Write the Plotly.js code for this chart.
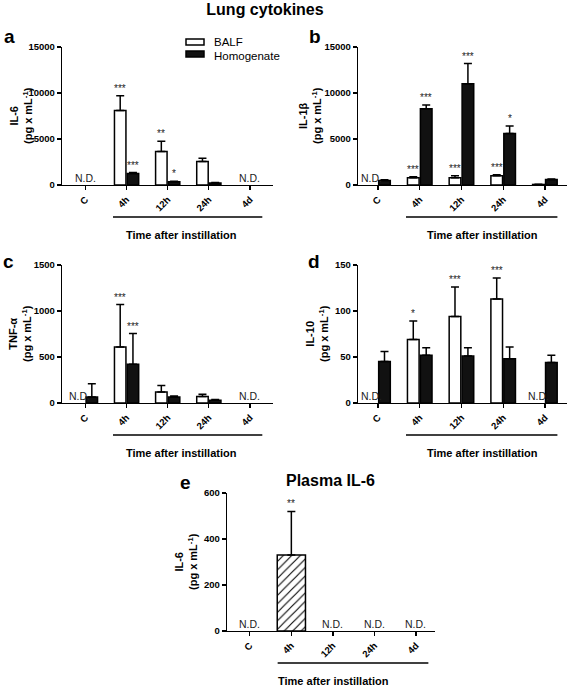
<!DOCTYPE html>
<html>
<head>
<meta charset="utf-8">
<script src="https://cdn.plot.ly/plotly-3.0.1.min.js"></script>
<style>html,body{margin:0;padding:0;background:#fff;}#chart{width:567px;height:687px;}</style>
</head>
<body>
<div id="chart"></div>
<script>
// ---------- DATA ----------
const categories = ['C', '4h', '12h', '24h', '4d'];
const seriesNames = ['BALF', 'Homogenate'];

// a: lung IL-6 (pg/mL)
const il6Balf      = [null, 8100, 3650, 2550, null];
const il6BalfErr   = [null, 1600, 1100, 350, null];
const il6Hom       = [null, 1250, 350, 220, null];
const il6HomErr    = [null, 100, 60, 40, null];
const il6BalfSig   = ['', '***', '**', '', ''];
const il6HomSig    = ['', '***', '*', '', ''];

// b: lung IL-1beta
const il1bBalf     = [null, 800, 800, 1000, 60];
const il1bBalfErr  = [null, 100, 200, 120, 20];
const il1bHom      = [500, 8300, 11000, 5600, 600];
const il1bHomErr   = [80, 400, 2200, 800, 60];
const il1bBalfSig  = ['', '***', '***', '***', ''];
const il1bHomSig   = ['', '***', '***', '*', ''];

// c: lung TNF-alpha
const tnfBalf      = [null, 610, 120, 70, null];
const tnfBalfErr   = [null, 460, 70, 25, null];
const tnfHom       = [65, 420, 65, 30, null];
const tnfHomErr    = [145, 335, 10, 8, null];
const tnfBalfSig   = ['', '***', '', '', ''];
const tnfHomSig    = ['', '***', '', '', ''];

// d: lung IL-10
const il10Balf     = [null, 69, 94, 113, null];
const il10BalfErr  = [null, 20, 32, 23, null];
const il10Hom      = [45, 52, 51, 48, 44];
const il10HomErr   = [11, 8, 9, 13, 8];
const il10BalfSig  = ['', '*', '***', '***', ''];
const il10HomSig   = ['', '', '', '', ''];

// e: plasma IL-6
const plasmaIl6    = [null, 330, null, null, null];
const plasmaIl6Err = [null, 190, null, null, null];
const plasmaIl6Sig = ['', '**', '', '', ''];

// ---------- TEXT ----------
const mainTitle = 'Lung cytokines';
const plasmaTitle = 'Plasma IL-6';
const xTitle = 'Time after instillation';
const ndText = 'N.D.';
const unitText = '(pg x mL<sup>-1</sup>)';

// ---------- LAYOUT HELPERS ----------
const W = 567, H = 687;
const px = x => x / W;
const py = y => 1 - y / H;
const FONT = 'Liberation Sans, Arial, Helvetica, sans-serif';
const BARGAP = 0.38, GROUPGAP = 0.1;
const SLOT_OFF = (1 - BARGAP) / 4;

const panels = [
  {letter:'a', yLabel:'IL-6', balf:il6Balf, balfErr:il6BalfErr, hom:il6Hom, homErr:il6HomErr, balfSig:il6BalfSig, homSig:il6HomSig,
   left:62, right:273, zero:185, top:47, xr:[-0.57,4.56], yr:[0,15000], dtick:5000,
   letterPos:[9,36], yTitleX:21, timeX:181},
  {letter:'b', yLabel:'IL-1β', balf:il1bBalf, balfErr:il1bBalfErr, hom:il1bHom, homErr:il1bHomErr, balfSig:il1bBalfSig, homSig:il1bHomSig,
   left:358, right:567, zero:185, top:47, xr:[-0.48,4.53], yr:[0,15000], dtick:5000,
   letterPos:[315,36], yTitleX:310, timeX:482},
  {letter:'c', yLabel:'TNF-α', balf:tnfBalf, balfErr:tnfBalfErr, hom:tnfHom, homErr:tnfHomErr, balfSig:tnfBalfSig, homSig:tnfHomSig,
   left:62, right:273, zero:403, top:265, xr:[-0.57,4.56], yr:[0,1500], dtick:500,
   letterPos:[8,262], yTitleX:20, timeX:181},
  {letter:'d', yLabel:'IL-10', balf:il10Balf, balfErr:il10BalfErr, hom:il10Hom, homErr:il10HomErr, balfSig:il10BalfSig, homSig:il10HomSig,
   left:358, right:567, zero:403, top:265, xr:[-0.48,4.53], yr:[0,150], dtick:50,
   letterPos:[314,262], yTitleX:317, timeX:482},
  {letter:'e', yLabel:'IL-6', single:plasmaIl6, singleErr:plasmaIl6Err, singleSig:plasmaIl6Sig,
   left:227, right:435, zero:631, top:493, xr:[-0.55,4.46], yr:[0,600], dtick:200,
   letterPos:[185,482], yTitleX:186, timeX:333}
];

const traces = [];
const annotations = [];
const shapes = [];
const layout = {
  width: W, height: H,
  margin: {l:0, r:0, t:0, b:0},
  paper_bgcolor: '#fff', plot_bgcolor: 'rgba(0,0,0,0)',
  barmode: 'group', bargap: BARGAP, bargroupgap: GROUPGAP,
  showlegend: false,
  font: {family: FONT, color: '#000'},
  title: {text: mainTitle, x: px(265), xref: 'paper', xanchor: 'center', y: py(9.5), yref: 'paper', yanchor: 'middle',
          font: {family: FONT, size: 16, weight: 'bold', color: '#000'}},
  annotations: annotations, shapes: shapes
};

const zerosLike = arr => arr.map(() => 0);
const tickFont = {family: FONT, size: 9.5, weight: 'bold', color: '#000'};

panels.forEach((p, i) => {
  const n = i + 1;
  const xa = n === 1 ? 'x' : 'x' + n;
  const ya = n === 1 ? 'y' : 'y' + n;
  const xk = n === 1 ? 'xaxis' : 'xaxis' + n;
  const yk = n === 1 ? 'yaxis' : 'yaxis' + n;

  layout[xk] = {
    domain: [px(p.left), px(p.right)], anchor: ya, type: 'category', categoryarray: categories,
    range: p.xr, showline: true, linecolor: '#000', linewidth: 1.3, ticks: 'outside', ticklen: 4,
    tickwidth: 1.3, tickcolor: '#000', tickangle: -45, tickfont: tickFont, showgrid: false, zeroline: false,
    fixedrange: true
  };
  layout[yk] = {
    domain: [py(p.zero), py(p.top)], anchor: xa, range: p.yr, dtick: p.dtick, tick0: 0, tickformat: 'd',
    showline: true, linecolor: '#000', linewidth: 1.3, ticks: 'outside', ticklen: 4, tickwidth: 1.3,
    tickcolor: '#000', tickfont: tickFont, showgrid: false, zeroline: false, fixedrange: true
  };

  const errBar = (arr) => ({type: 'data', symmetric: false, array: arr, arrayminus: zerosLike(arr),
                            color: '#000', thickness: 1.5, width: 4});
  const starAnn = (xpos, yval, txt) => ({
    x: xpos, y: yval, xref: xa, yref: ya, text: txt, showarrow: false, xanchor: 'center', yanchor: 'bottom',
    yshift: 0, font: {family: FONT, size: 10, color: '#222'}
  });
  const ndAnn = (xpos) => ({
    x: xpos, y: 0, xref: xa, yref: ya, text: ndText, showarrow: false, xanchor: 'center', yanchor: 'bottom',
    yshift: -1, font: {family: FONT, size: 10.5, color: '#222'}
  });

  if (p.single) {
    traces.push({type: 'bar', name: 'Plasma', x: categories, y: p.single, xaxis: xa, yaxis: ya, width: 0.68,
      marker: {color: '#fff', line: {color: '#000', width: 1.5},
               pattern: {shape: '/', fgcolor: '#000', bgcolor: '#fff', size: 6, solidity: 0.18}},
      error_y: errBar(p.singleErr), hoverinfo: 'skip'});
    categories.forEach((c, k) => {
      if (p.single[k] === null) annotations.push(ndAnn(k));
      else if (p.singleSig[k]) annotations.push(starAnn(k, p.single[k] + p.singleErr[k], p.singleSig[k]));
    });
    annotations.push({x: px(330), y: py(480.5), xref: 'paper', yref: 'paper', text: plasmaTitle, showarrow: false,
      xanchor: 'center', yanchor: 'middle', font: {family: FONT, size: 16, weight: 'bold', color: '#000'}});
  } else {
    traces.push({type: 'bar', name: seriesNames[0], x: categories, y: p.balf, xaxis: xa, yaxis: ya,
      marker: {color: '#fff', line: {color: '#000', width: 1.5}}, error_y: errBar(p.balfErr), hoverinfo: 'skip'});
    traces.push({type: 'bar', name: seriesNames[1], x: categories, y: p.hom, xaxis: xa, yaxis: ya,
      marker: {color: '#111', line: {color: '#000', width: 1.5}}, error_y: errBar(p.homErr), hoverinfo: 'skip'});
    categories.forEach((c, k) => {
      const bNull = p.balf[k] === null, hNull = p.hom[k] === null;
      if (bNull && hNull) annotations.push(ndAnn(k));
      else if (bNull) annotations.push(ndAnn(k - SLOT_OFF));
      if (!bNull && p.balfSig[k]) annotations.push(starAnn(k - SLOT_OFF, p.balf[k] + p.balfErr[k], p.balfSig[k]));
      if (!hNull && p.homSig[k]) annotations.push(starAnn(k + SLOT_OFF, p.hom[k] + p.homErr[k], p.homSig[k]));
    });
  }

  // panel letter
  annotations.push({x: px(p.letterPos[0]), y: py(p.letterPos[1]), xref: 'paper', yref: 'paper', text: p.letter,
    showarrow: false, xanchor: 'center', yanchor: 'middle', font: {family: FONT, size: 19, weight: 'bold', color: '#000'}});
  // y title
  annotations.push({x: px(p.yTitleX), y: py((p.zero + p.top) / 2), xref: 'paper', yref: 'paper',
    text: p.yLabel + '<br>' + unitText, textangle: -90, showarrow: false, xanchor: 'center', yanchor: 'middle',
    font: {family: FONT, size: 11, weight: 'bold', color: '#000'}});
  // underline bracket
  shapes.push({type: 'line', xref: xa, yref: 'paper', x0: 0.67, x1: 4.3, y0: py(p.zero + 32), y1: py(p.zero + 32),
    line: {color: '#000', width: 1.6}});
  // x title
  annotations.push({x: px(p.timeX), y: py(p.zero + 50), xref: 'paper', yref: 'paper', text: xTitle, showarrow: false,
    xanchor: 'center', yanchor: 'middle', font: {family: FONT, size: 11, weight: 'bold', color: '#000'}});
});

// custom legend (panel a)
shapes.push({type: 'rect', xref: 'paper', yref: 'paper', x0: px(186), x1: px(204), y0: py(45), y1: py(39),
  fillcolor: '#fff', line: {color: '#000', width: 1.5}});
shapes.push({type: 'rect', xref: 'paper', yref: 'paper', x0: px(186), x1: px(204), y0: py(57), y1: py(51),
  fillcolor: '#111', line: {color: '#000', width: 1.5}});
annotations.push({x: px(212), y: py(42), xref: 'paper', yref: 'paper', text: seriesNames[0], showarrow: false,
  xanchor: 'left', yanchor: 'middle', font: {family: FONT, size: 11.5, color: '#000'}});
annotations.push({x: px(212), y: py(55.5), xref: 'paper', yref: 'paper', text: seriesNames[1], showarrow: false,
  xanchor: 'left', yanchor: 'middle', font: {family: FONT, size: 11.5, color: '#000'}});

Plotly.newPlot('chart', traces, layout, {staticPlot: true, displayModeBar: false});
</script>
</body>
</html>
